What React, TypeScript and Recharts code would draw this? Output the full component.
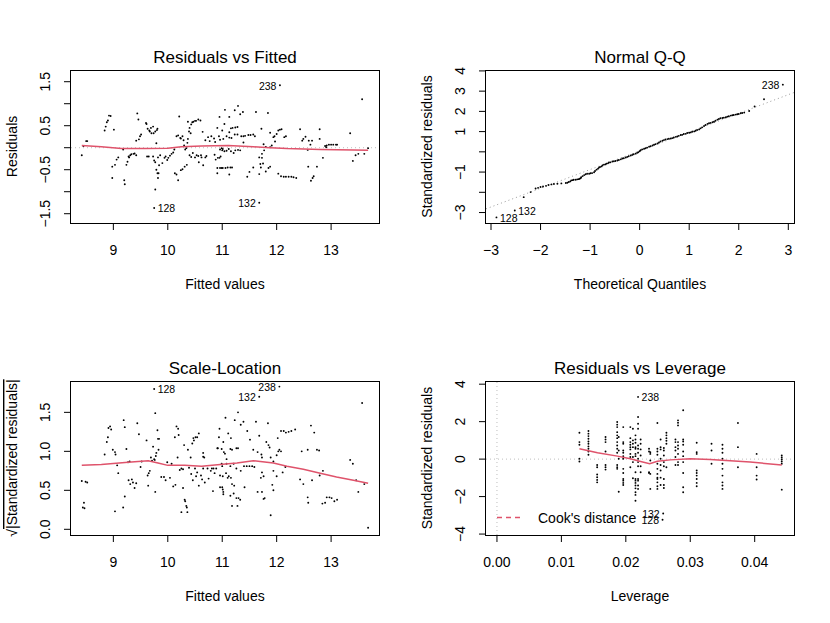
import type { ReactNode } from "react";
import {
  ScatterChart,
  Scatter,
  XAxis,
  YAxis,
  ReferenceLine,
} from "recharts";

const FONT = '"Liberation Sans", Arial, Helvetica, sans-serif';
const LOWESS_RED = "#DF536B";
const GUIDE_GRAY = "#BEBEBE";
const PANEL_W = 415;
const MARGIN = { top: 70, right: 36, bottom: 58, left: 11 };
const Y_AXIS_W = 60;
const X_AXIS_H = 30;

// ---- Residuals vs Fitted: [fitted, residual]
const RESID_FITTED = [
  [8.42, -0.17], [8.45, 0.04], [8.5, 0.15], [8.52, 0.15],
  [8.84, 0.39], [8.86, 0.48], [8.88, 0.58], [8.9, 0.62], [8.92, 0.73], [8.95, 0.72], [9.01, 0.41],
  [8.98, -0.43], [8.98, -0.69], [9.03, -0.39], [9.06, -0.27], [9.09, -0.22],
  [9.18, -0.04], [9.2, -0.74], [9.21, -0.83], [9.24, -0.39], [9.26, -0.32], [9.28, -0.2], [9.29, -0.22],
  [9.31, -0.17], [9.33, -0.15], [9.37, -0.14], [9.39, -0.13], [9.42, -0.17],
  [9.42, 0.16], [9.44, 0.78], [9.46, 0.64], [9.47, 0.19], [9.49, 0.26], [9.51, 0.3],
  [9.6, 0.56], [9.61, 0.54], [9.63, 0.43], [9.66, 0.39], [9.67, 0.37], [9.69, 0.45], [9.7, 0.33],
  [9.73, 0.48], [9.74, 0.33], [9.77, 0.37], [9.79, 0.1], [9.8, 0.4], [9.81, 0.43],
  [9.62, -0.2], [9.65, -0.2], [9.73, -0.2], [9.75, -0.29], [9.77, -0.33], [9.79, -0.5], [9.81, -0.58],
  [9.82, -0.69], [9.83, -0.58], [9.84, -0.4], [9.82, -0.22], [9.77, -0.95],
  [9.86, -0.17], [9.9, -0.35], [9.94, -0.23], [9.96, -0.2], [9.99, -0.28], [10.01, -0.23], [10.04, -0.18],
  [10.07, -0.14], [10.1, -0.11], [10.12, -0.04],
  [10.13, -0.58], [10.16, -0.61], [10.19, -0.74], [10.24, -0.51], [10.27, -0.49], [10.31, -0.43], [10.35, -0.39],
  [10.16, 0.26], [10.19, 0.28], [10.21, 0.71], [10.23, 0.22], [10.24, 0.21], [10.27, 0.26], [10.29, 0.17],
  [10.3, 0.05], [10.32, -0.04], [10.34, -0.01], [10.36, 0.11], [10.37, 0.2], [10.37, 0.59], [10.39, 0.37],
  [10.4, 0.45], [10.42, 0.33], [10.43, 0.53], [10.45, 0.58], [10.47, 0.59], [10.5, 0.61], [10.52, 0.61],
  [10.56, 0.64], [10.6, 0.62], [10.64, 0.36],
  [10.4, -0.17], [10.43, -0.21], [10.46, -0.12], [10.5, -0.22], [10.53, -0.17], [10.56, -0.19], [10.57, -0.33],
  [10.61, -0.17], [10.62, -0.22], [10.65, -0.4], [10.69, -0.22], [10.69, 0.17], [10.71, -0.19], [10.74, 0.24],
  [10.77, 0.15], [10.8, 0.26], [10.85, 0.21], [10.87, 0.13], [10.86, -0.16], [10.88, -0.27], [10.91, -0.46],
  [10.92, -0.23], [10.95, -0.23], [10.97, -0.2], [10.99, -0.01], [11.0, -0.06], [10.95, 0.7], [10.91, 0.45],
  [10.94, 0.26], [11.0, 0.39], [11.02, 0.2], [11.04, 0.54], [11.05, 0.86], [11.06, -0.46], [10.99, -0.46],
  [10.91, -0.58],
  [10.96, 0.18], [11.13, 0.7], [11.23, 0.85], [11.29, 0.95], [11.33, 0.76], [11.38, 0.81],
  [11.13, 0.35], [11.16, 0.44], [11.19, 0.45], [11.24, 0.46], [11.28, 0.47],
  [11.08, 0.26], [11.13, 0.23], [11.17, 0.22], [11.23, 0.3], [11.28, 0.3], [11.35, 0.26], [11.39, 0.26],
  [11.42, 0.27], [11.48, 0.29], [11.52, 0.29], [11.57, 0.3], [11.6, 0.26], [11.39, 0.12],
  [10.96, -0.04], [11.01, -0.03], [11.04, -0.08], [11.08, -0.07], [11.12, -0.03], [11.16, -0.08],
  [11.21, -0.12], [11.24, -0.06], [11.29, -0.05], [11.33, -0.06],
  [10.96, -0.46], [11.01, -0.46], [11.1, -0.45], [11.15, -0.45], [11.18, -0.45], [11.13, -0.61], [11.57, -0.45],
  [11.62, 0.81], [11.84, 0.79], [11.72, 0.43], [11.76, 0.08], [11.8, 0.02], [11.73, -0.14], [11.68, -0.22],
  [11.73, -0.23], [11.77, -0.06], [11.7, -0.37], [11.71, -0.45], [11.75, -0.36],
  [11.88, 0.34], [11.94, 0.24], [11.97, 0.14], [12.0, 0.31], [12.03, 0.39], [12.06, 0.41], [12.09, 0.42],
  [12.14, 0.24], [12.17, 0.26], [11.88, 0.01], [11.91, 0.05], [11.96, 0.26],
  [11.8, -0.54], [11.85, -0.46], [11.88, -0.43], [11.5, -0.55], [11.46, -0.66], [11.68, -0.6],
  [12.03, -0.59], [12.08, -0.65], [12.13, -0.66], [12.17, -0.66], [12.22, -0.66], [12.27, -0.66],
  [12.31, -0.67], [12.36, -0.69],
  [12.43, 0.42], [12.47, 0.16], [12.49, 0.2], [12.53, 0.25], [12.59, 0.16], [12.62, 0.07], [12.65, 0.16],
  [12.79, 0.42], [12.79, 0.2],
  [12.57, -0.05], [12.58, -0.43], [12.66, -0.69], [12.74, -0.43], [12.68, -0.65], [12.63, -0.75],
  [12.85, -0.23], [12.89, 0.04], [12.91, 0.01], [12.92, 0.05], [12.96, 0.07], [13.0, 0.07], [13.04, 0.07],
  [13.09, 0.07], [13.11, 0.07],
  [13.35, 0.33], [13.4, -0.3], [13.45, -0.17], [13.5, -0.14], [13.57, 1.1], [13.61, -0.14], [13.68, -0.01],
];
const RESID_FITTED_IDS: Array<[number, number, string]> = [
  [9.75, -1.37, "128"],
  [11.68, -1.25, "132"],
  [12.06, 1.42, "238"],
];
const RESID_FITTED_SMOOTH = [
  [8.42, 0.05], [8.78, 0.02], [9.15, -0.02], [9.58, -0.02], [10.0, -0.01], [10.25, 0.02], [10.62, 0.04],
  [11.11, 0.05], [11.57, 0.02], [11.88, 0.0], [12.19, -0.02], [12.8, -0.04], [13.41, -0.05], [13.68, -0.06],
];

// ---- Normal Q-Q: [theoretical, standardized residual]
const QQ_POINTS = [
  [-2.34, -2.24], [-2.2, -1.99], [-2.1, -1.81], [-2.05, -1.78], [-2.0, -1.74], [-1.95, -1.71], [-1.89, -1.68],
  [-1.84, -1.64], [-1.78, -1.61], [-1.73, -1.59], [-1.66, -1.58], [-1.58, -1.56], [-1.49, -1.54], [-1.43, -1.49],
  [-1.38, -1.41], [-1.33, -1.38], [-1.26, -1.36], [-1.21, -1.33], [-1.18, -1.25], [-1.12, -1.15], [-1.06, -1.08],
  [-0.99, -1.06], [-0.92, -1.01], [-0.87, -0.88], [-0.82, -0.78], [-0.77, -0.72], [-0.72, -0.63], [-0.67, -0.58],
  [-0.62, -0.53], [-0.55, -0.48], [-0.49, -0.45], [-0.42, -0.4], [-0.35, -0.33], [-0.28, -0.28], [-0.22, -0.22],
  [-0.15, -0.15], [-0.08, -0.09], [-0.03, -0.02], [0.02, 0.08], [0.09, 0.15], [0.15, 0.21], [0.22, 0.28],
  [0.29, 0.35], [0.36, 0.41], [0.42, 0.51], [0.49, 0.58], [0.56, 0.63], [0.63, 0.66], [0.69, 0.71], [0.76, 0.76],
  [0.83, 0.83], [0.89, 0.88], [0.96, 0.93], [1.03, 0.96], [1.1, 1.01], [1.16, 1.08], [1.23, 1.16], [1.3, 1.28],
  [1.37, 1.38], [1.43, 1.43], [1.5, 1.49], [1.57, 1.59], [1.63, 1.66], [1.7, 1.69], [1.77, 1.74], [1.84, 1.79],
  [1.9, 1.82], [1.97, 1.86], [2.04, 1.91], [2.11, 1.94], [2.21, 2.02], [2.32, 2.24], [2.51, 2.6],
  [-1.46, -1.53], [-1.4, -1.46], [-1.35, -1.4], [-1.29, -1.38], [-1.23, -1.35], [-1.19, -1.3], [-1.15, -1.2],
  [-1.09, -1.11], [-1.02, -1.08], [-0.96, -1.05], [-0.9, -0.95], [-0.84, -0.83], [-0.8, -0.75], [-0.75, -0.67],
  [-0.69, -0.62], [-0.64, -0.57], [-0.59, -0.52], [-0.52, -0.47], [-0.45, -0.43], [-0.38, -0.37], [-0.32, -0.32],
  [-0.25, -0.25], [-0.18, -0.18], [-0.12, -0.12], [-0.05, -0.05], [0.0, 0.03], [0.05, 0.12], [0.12, 0.18],
  [0.19, 0.25], [0.26, 0.31], [0.32, 0.38], [0.39, 0.46], [0.46, 0.55], [0.52, 0.61], [0.59, 0.65], [0.66, 0.68],
  [0.73, 0.74], [0.79, 0.79], [0.86, 0.84], [0.93, 0.89], [1.0, 0.94], [1.06, 0.99], [1.13, 1.04], [1.2, 1.11],
  [1.26, 1.21], [1.33, 1.33], [1.4, 1.41], [1.47, 1.46], [1.53, 1.54], [1.6, 1.62], [1.67, 1.67], [1.74, 1.71],
  [1.8, 1.76], [1.87, 1.81], [1.94, 1.84], [2.0, 1.87], [2.07, 1.92],
];
const QQ_IDS: Array<[number, number, string]> = [
  [-2.89, -3.24, "128"],
  [-2.52, -2.9, "132"],
  [2.89, 3.32, "238"],
];
const QQ_LINE = { intercept: 0.05, slope: 0.925 };

// ---- Scale-Location: [fitted, sqrt(|standardized residual|)]
const SCALE_LOCATION = [
  [8.42, 0.62], [8.49, 0.61], [8.52, 0.6], [8.46, 0.34], [8.44, 0.28], [8.47, 0.27],
  [8.84, 0.96], [8.88, 1.12], [8.9, 1.18], [8.91, 1.3], [8.94, 1.32], [8.96, 1.28], [8.99, 1.02], [9.03, 0.99],
  [9.04, 0.96], [9.07, 0.82], [9.09, 0.72], [9.03, 0.23], [9.18, 0.28], [9.21, 0.42], [9.19, 1.4], [9.21, 1.31],
  [9.24, 1.03], [9.27, 0.86], [9.3, 0.87], [9.28, 0.63], [9.31, 0.58], [9.34, 0.64], [9.36, 0.6], [9.39, 0.53],
  [9.42, 0.59], [9.44, 1.36], [9.47, 1.22], [9.5, 0.8], [9.52, 0.87],
  [9.61, 1.14], [9.63, 0.69], [9.65, 0.72], [9.67, 0.75], [9.69, 0.92], [9.71, 0.88], [9.73, 1.06], [9.75, 0.9],
  [9.76, 0.89], [9.77, 1.49], [9.78, 0.94], [9.79, 0.98], [9.81, 1.27], [9.82, 1.16], [9.83, 1.02], [9.84, 1.16],
  [9.64, 0.56], [9.77, 0.48], [9.88, 0.67], [9.93, 0.67], [9.96, 0.63], [9.99, 0.86], [10.04, 0.66], [10.07, 0.84],
  [10.1, 0.55], [10.13, 1.18], [10.14, 0.57], [10.16, 1.32], [10.18, 0.92], [10.19, 1.29], [10.2, 1.21],
  [10.22, 0.76], [10.25, 0.78], [10.28, 0.77], [10.28, 0.53], [10.3, 1.08], [10.31, 0.38], [10.32, 0.36],
  [10.35, 0.28], [10.34, 0.3], [10.36, 0.22], [10.25, 0.22], [10.37, 1.02], [10.39, 0.79], [10.42, 0.92],
  [10.43, 0.71], [10.45, 1.1], [10.46, 0.63], [10.47, 1.17], [10.48, 1.14], [10.51, 1.18], [10.54, 1.18],
  [10.57, 1.23], [10.65, 0.93], [10.67, 0.92], [10.65, 0.98], [10.5, 0.78], [10.52, 0.68], [10.54, 0.73],
  [10.57, 0.56], [10.61, 0.69], [10.63, 0.64], [10.68, 0.6], [10.65, 0.78], [10.73, 0.78], [10.75, 0.65],
  [10.79, 0.75], [10.81, 0.78], [10.84, 0.78], [10.86, 0.72], [10.89, 0.78], [10.91, 1.04], [10.92, 1.04],
  [10.94, 1.18], [10.95, 1.29], [10.99, 1.03], [11.0, 0.81], [11.02, 1.12], [11.02, 0.48], [11.0, 0.54],
  [11.03, 0.99], [11.06, 1.43], [11.08, 0.9], [11.1, 0.66], [10.83, 0.49],
  [11.05, 0.97], [11.11, 1.23], [11.16, 1.17], [11.15, 1.03], [11.18, 1.02], [11.23, 1.4], [11.26, 1.04],
  [11.29, 1.04], [11.29, 1.5], [11.34, 1.34], [11.39, 1.38], [11.46, 1.26], [11.51, 1.15], [11.57, 1.02],
  [11.62, 1.38], [11.68, 1.2], [11.65, 0.99], [11.72, 0.96], [11.73, 0.92], [11.84, 1.36], [11.81, 1.12],
  [11.85, 1.08], [11.87, 1.05], [11.89, 0.92], [11.94, 0.87], [12.0, 0.95], [12.03, 1.0], [12.05, 1.02],
  [12.08, 1.0], [12.02, 1.17], [12.08, 1.26], [12.13, 1.26], [12.17, 1.24], [12.22, 1.25], [12.27, 1.26],
  [12.34, 1.28], [12.46, 1.0], [12.57, 1.02], [12.74, 1.02], [12.78, 1.01], [12.63, 1.33], [12.69, 1.24],
  [10.99, 0.84], [11.08, 0.84], [11.15, 0.81], [11.21, 0.84], [11.26, 0.78], [10.96, 0.69], [11.01, 0.68],
  [11.07, 0.72], [11.12, 0.68], [11.16, 0.66], [10.96, 0.54], [11.01, 0.51], [11.02, 0.45], [11.18, 0.58],
  [11.22, 0.56], [11.15, 0.43], [11.21, 0.46], [11.26, 0.4], [11.3, 0.4], [11.33, 0.38], [11.18, 0.3],
  [11.28, 0.3], [11.41, 0.54], [11.34, 0.75], [11.4, 0.81], [11.45, 0.81], [11.5, 0.81], [11.55, 0.81],
  [11.59, 0.8], [11.73, 0.73], [11.71, 0.66], [11.76, 0.68], [11.94, 0.75], [12.0, 0.68], [12.11, 0.73],
  [12.16, 0.8], [11.65, 0.48], [11.73, 0.48], [11.76, 0.39], [11.78, 0.4], [11.92, 0.57], [11.94, 0.5],
  [11.89, 0.18], [12.43, 0.64], [12.49, 0.58], [12.65, 0.63], [12.79, 0.69], [12.85, 0.75], [12.57, 0.41],
  [12.58, 0.34], [12.84, 0.33], [12.89, 0.34], [12.92, 0.41], [12.97, 0.41], [13.01, 0.4], [13.06, 0.36],
  [13.11, 0.38], [13.35, 0.89], [13.4, 0.84], [13.46, 0.63], [13.5, 0.48], [13.57, 1.62], [13.61, 0.58],
  [13.68, 0.02],
];
const SCALE_LOCATION_IDS: Array<[number, number, string]> = [
  [9.75, 1.8, "128"],
  [11.68, 1.7, "132"],
  [12.05, 1.83, "238"],
];
const SCALE_LOCATION_SMOOTH = [
  [8.42, 0.82], [8.78, 0.83], [9.27, 0.86], [9.64, 0.88], [9.82, 0.85], [10.0, 0.82], [10.31, 0.82],
  [10.62, 0.81], [11.11, 0.84], [11.27, 0.85], [11.57, 0.88], [11.7, 0.87], [11.94, 0.85], [12.19, 0.81],
  [12.49, 0.77], [12.8, 0.72], [13.1, 0.67], [13.41, 0.63], [13.68, 0.59],
];

// ---- Residuals vs Leverage: leverage columns with their standardized residuals
const LEVERAGE_COLUMNS: Array<[number, number[]]> = [
  [0.0128, [1.41, 0.91, 0.77, 0.02, -0.13]],
  [0.0142, [1.5, 1.36, 1.23, 1.09, 0.94, 0.82, 0.68, 0.55, 0.41, 0.23]],
  [0.01555, [-0.31, -0.43, -0.82, -0.97, -1.11, -1.24]],
  [0.01685, [1.18, 1.05, 0.91, 0.41, -0.31, -0.43, -0.56]],
  [0.01866, [1.98, 1.84, 1.71, 1.44, 1.27, 1.12, 0.91, 0.73, 0.55, 0.34, -0.31, -0.43, -0.52]],
  [0.0189, [1.18, 0.46, 0.02, -1.74]],
  [0.0196, [1.71, 0.91, 0.82, 0.46, 0.34, 0.16, 0.02, -0.52, -0.74, -1.06, -1.15, -1.27, -1.38]],
  [0.0207, [1.71, 1.12, 0.91, 0.77, 0.64, 0.52, 0.28, 0.11, -0.43]],
  [0.0211, [1.62, 1.0, 0.82, 0.64, 0.11, -0.16, -1.02]],
  [0.0215, [1.27, 1.05, 0.87, 0.64, 0.55, 0.28, 0.16, -0.7, -1.06, -1.15, -1.27, -1.41, -1.56, -1.77, -1.91, -2.22]],
  [0.0219, [2.25, 1.89, 1.62, 0.73, 0.55, 0.34, 0.02, -0.16, -0.38, -1.06, -1.15, -1.41, -1.59]],
  [0.0223, [1.05, 0.82, 0.52, 0.19, -0.38, -0.7]],
  [0.0236, [0.55, 0.41, -0.7, -0.74]],
  [0.0238, [0.37, 0.28, -0.07, -0.79, -1.59]],
  [0.0249, [1.93, 0.55, 0.41, 0.23, -0.25, -0.52, -0.79, -0.99, -1.06, -1.24, -1.45, -1.59]],
  [0.0254, [1.05, 0.64, 0.52, 0.02, -0.31, -0.61, -0.99, -1.38]],
  [0.0259, [0.59, 0.46, 0.19, -0.16, -0.38, -1.06, -1.38, -1.54]],
  [0.0263, [1.41, 1.27, 1.12, 0.98, 0.82, -0.43]],
  [0.0277, [1.05, 0.91, 0.64, 0.46, 0.11, -0.31]],
  [0.0281, [2.07, 1.94, 1.8, 0.91, 0.73, 0.55, 0.28, -0.16, -0.31]],
  [0.0289, [2.61, 1.05, 0.94, 0.77, 0.41, 0.16, -0.16, -0.74, -1.5, -1.77]],
  [0.031, [0.87, 0.37, 0.28, -0.61, -0.74, -0.88, -1.06, -1.27, -1.45]],
  [0.0333, [0.82, 0.46, -0.25]],
  [0.035, [0.77, 0.55, 0.34, 0.02, -0.25, -0.52, -0.88, -1.24, -1.41, -1.59]],
  [0.0374, [1.93, 0.64, -0.43]],
  [0.0403, [0.28, -0.43, -0.88, -1.09]],
  [0.0442, [0.19, 0.09, -0.02, -0.13, -0.25, -1.63]],
];
const LEVERAGE_IDS: Array<[number, number, string]> = [
  [0.0219, 3.32, "238"],
  [0.0258, -2.9, "132"],
  [0.0257, -3.24, "128"],
];
const LEVERAGE_SMOOTH = [
  [0.0128, 0.55], [0.0156, 0.34], [0.0187, 0.16], [0.0207, 0.02], [0.0223, -0.13], [0.0237, -0.25],
  [0.0249, -0.11], [0.0269, -0.04], [0.03, 0.02], [0.0331, -0.02], [0.0362, -0.09], [0.0393, -0.16],
  [0.0442, -0.31],
];

// ---- axes
const FITTED_TICKS = [9, 10, 11, 12, 13];
const FITTED_LABELS = ["9", "10", "11", "12", "13"];
const RESID_TICKS = [-1.5, -1, -0.5, 0, 0.5, 1, 1.5];
const RESID_LABELS = ["\u22121.5", "", "\u22120.5", "", "0.5", "", "1.5"];
const QQ_X_TICKS = [-3, -2, -1, 0, 1, 2, 3];
const QQ_X_LABELS = ["\u22123", "\u22122", "\u22121", "0", "1", "2", "3"];
const QQ_Y_TICKS = [-3, -2, -1, 0, 1, 2, 3, 4];
const QQ_Y_LABELS = ["\u22123", "", "\u22121", "", "1", "2", "3", "4"];
const SL_TICKS = [0, 0.5, 1, 1.5];
const SL_LABELS = ["0.0", "0.5", "1.0", "1.5"];
const LEV_X_TICKS = [0, 0.01, 0.02, 0.03, 0.04];
const LEV_X_LABELS = ["0.00", "0.01", "0.02", "0.03", "0.04"];
const LEV_Y_TICKS = [-4, -2, 0, 2, 4];
const LEV_Y_LABELS = ["\u22124", "\u22122", "0", "2", "4"];

const FITTED_DOMAIN: [number, number] = [8.222, 13.88];

type XY = { x: number; y: number };
type Tag = XY & { id: string; side: "left" | "right" };

const toXY = (pts: number[][]): XY[] => pts.map(([x, y]) => ({ x, y }));

// same rule as plot.lm: label to the left when the point is right of the labelled points' midrange
function tagPoints(pts: Array<[number, number, string]>): Tag[] {
  const xs = pts.map((p) => p[0]);
  const mid = (Math.min(...xs) + Math.max(...xs)) / 2;
  return pts.map(([x, y, id]) => ({ x, y, id, side: x > mid ? "left" : "right" }));
}

const leveragePoints: XY[] = LEVERAGE_COLUMNS.flatMap(([h, rs]) => rs.map((r) => ({ x: h, y: r })));

function Dot(props: any) {
  return <circle cx={props.cx} cy={props.cy} r={0.95} fill="#000" />;
}

function TaggedDot(props: any) {
  const d = props.payload ?? props;
  const left = d.side === "left";
  return (
    <g>
      <circle cx={props.cx} cy={props.cy} r={0.95} fill="#000" />
      <text
        x={left ? props.cx - 3.5 : props.cx + 3.5}
        y={props.cy + 0.5}
        textAnchor={left ? "end" : "start"}
        dominantBaseline="central"
        fontSize={10.5}
        fontFamily={FONT}
        fill="#000"
      >
        {d.id}
      </text>
    </g>
  );
}

type PanelProps = {
  left: number;
  top: number;
  height: number;
  title: string;
  xTitle: string;
  yTitle: ReactNode;
  xDomain: [number, number];
  yDomain: [number, number];
  xTicks: number[];
  xLabels: string[];
  yTicks: number[];
  yLabels: string[];
  points: XY[];
  smooth: XY[];
  tagged: Tag[];
  guides?: ReactNode[];
  overlay?: ReactNode;
};

function Panel(p: PanelProps) {
  const plotW = PANEL_W - MARGIN.left - Y_AXIS_W - MARGIN.right;
  const plotH = p.height - MARGIN.top - MARGIN.bottom - X_AXIS_H;
  const boxL = MARGIN.left + Y_AXIS_W;
  const midX = boxL + plotW / 2;
  const midY = MARGIN.top + plotH / 2;
  const txt = { fontFamily: FONT, fill: "#000" };

  return (
    <div style={{ position: "absolute", left: p.left, top: p.top, width: PANEL_W, height: p.height }}>
      <ScatterChart width={PANEL_W} height={p.height} margin={MARGIN}>
        <XAxis
          type="number"
          dataKey="x"
          domain={p.xDomain}
          ticks={p.xTicks}
          interval={0}
          height={X_AXIS_H}
          axisLine={false}
          tickLine={{ stroke: "#000" }}
          tickSize={7}
          tickMargin={25}
          tick={(t: any) => (
            <text x={t.x} y={t.y} textAnchor="middle" fontSize={14} {...txt}>
              {p.xLabels[p.xTicks.indexOf(t.payload.value)] ?? ""}
            </text>
          )}
        />
        <YAxis
          type="number"
          dataKey="y"
          domain={p.yDomain}
          ticks={p.yTicks}
          interval={0}
          width={Y_AXIS_W}
          axisLine={false}
          tickLine={{ stroke: "#000" }}
          tickSize={7}
          tickMargin={14}
          tick={(t: any) => (
            <text
              x={t.x}
              y={t.y}
              transform={`rotate(-90 ${t.x} ${t.y})`}
              textAnchor="middle"
              fontSize={14}
              {...txt}
            >
              {p.yLabels[p.yTicks.indexOf(t.payload.value)] ?? ""}
            </text>
          )}
        />
        {p.guides}
        <Scatter data={p.points} shape={Dot} isAnimationActive={false} />
        <Scatter
          data={p.smooth}
          shape={() => <g />}
          line={{ stroke: LOWESS_RED, strokeWidth: 1.5 }}
          isAnimationActive={false}
        />
        <Scatter data={p.tagged} shape={TaggedDot} isAnimationActive={false} />
      </ScatterChart>
      <svg
        width={PANEL_W}
        height={p.height}
        style={{ position: "absolute", left: 0, top: 0, pointerEvents: "none" }}
      >
        {/* plot frame, as box() draws it */}
        <rect
          x={boxL - 0.5}
          y={MARGIN.top + 0.5}
          width={plotW + 1}
          height={plotH}
          fill="none"
          stroke="#000"
          strokeWidth={1}
        />
        <text x={midX} y={MARGIN.top - 7} textAnchor="middle" fontSize={17} {...txt}>
          {p.title}
        </text>
        <text x={midX} y={MARGIN.top + plotH + 66} textAnchor="middle" fontSize={14} {...txt}>
          {p.xTitle}
        </text>
        <text
          x={17}
          y={midY}
          transform={`rotate(-90 17 ${midY})`}
          textAnchor="middle"
          fontSize={14}
          {...txt}
        >
          {p.yTitle}
        </text>
        {p.overlay}
      </svg>
    </div>
  );
}

const dotted = { stroke: GUIDE_GRAY, strokeDasharray: "1 3", strokeWidth: 1 };

export default function App() {
  const qqX: [number, number] = [-3.101, 3.115];
  const levBottom = 312 - MARGIN.bottom - X_AXIS_H;
  const levLeft = MARGIN.left + Y_AXIS_W;

  return (
    <div style={{ position: "absolute", left: 0, top: 0, width: 830, height: 623, background: "#fff" }}>
      <Panel
        left={0}
        top={0}
        height={311}
        title="Residuals vs Fitted"
        xTitle="Fitted values"
        yTitle="Residuals"
        xDomain={FITTED_DOMAIN}
        yDomain={[-1.711, 1.766]}
        xTicks={FITTED_TICKS}
        xLabels={FITTED_LABELS}
        yTicks={RESID_TICKS}
        yLabels={RESID_LABELS}
        points={toXY(RESID_FITTED)}
        smooth={toXY(RESID_FITTED_SMOOTH)}
        tagged={tagPoints(RESID_FITTED_IDS)}
        guides={[<ReferenceLine key="h0" y={0} {...dotted} />]}
      />
      <Panel
        left={415}
        top={0}
        height={311}
        title="Normal Q-Q"
        xTitle="Theoretical Quantiles"
        yTitle="Standardized residuals"
        xDomain={qqX}
        yDomain={[-3.517, 4.045]}
        xTicks={QQ_X_TICKS}
        xLabels={QQ_X_LABELS}
        yTicks={QQ_Y_TICKS}
        yLabels={QQ_Y_LABELS}
        points={toXY(QQ_POINTS)}
        smooth={[]}
        tagged={tagPoints(QQ_IDS)}
        guides={[
          <ReferenceLine
            key="qq"
            segment={[
              { x: qqX[0], y: QQ_LINE.intercept + QQ_LINE.slope * qqX[0] },
              { x: qqX[1], y: QQ_LINE.intercept + QQ_LINE.slope * qqX[1] },
            ]}
            {...dotted}
            stroke="#9A9A9A"
          />,
        ]}
      />
      <Panel
        left={0}
        top={311}
        height={312}
        title="Scale-Location"
        xTitle="Fitted values"
        yTitle={
          <>
            {"\u221A"}
            <tspan textDecoration="overline">|Standardized residuals|</tspan>
          </>
        }
        xDomain={FITTED_DOMAIN}
        yDomain={[-0.073, 1.902]}
        xTicks={FITTED_TICKS}
        xLabels={FITTED_LABELS}
        yTicks={SL_TICKS}
        yLabels={SL_LABELS}
        points={toXY(SCALE_LOCATION)}
        smooth={toXY(SCALE_LOCATION_SMOOTH)}
        tagged={tagPoints(SCALE_LOCATION_IDS)}
      />
      <Panel
        left={415}
        top={311}
        height={312}
        title="Residuals vs Leverage"
        xTitle="Leverage"
        yTitle="Standardized residuals"
        xDomain={[-0.0017, 0.0461]}
        yDomain={[-4.05, 4.17]}
        xTicks={LEV_X_TICKS}
        xLabels={LEV_X_LABELS}
        yTicks={LEV_Y_TICKS}
        yLabels={LEV_Y_LABELS}
        points={leveragePoints}
        smooth={toXY(LEVERAGE_SMOOTH)}
        tagged={tagPoints(LEVERAGE_IDS)}
        guides={[
          <ReferenceLine key="v0" x={0} {...dotted} />,
          <ReferenceLine key="h0" y={0} {...dotted} />,
        ]}
        overlay={
          <g>
            <line
              x1={levLeft + 11}
              x2={levLeft + 34}
              y1={levBottom - 17.5}
              y2={levBottom - 17.5}
              stroke={LOWESS_RED}
              strokeWidth={1.5}
              strokeDasharray="5 4"
            />
            <text x={levLeft + 52} y={levBottom - 12.5} fontSize={14} fontFamily={FONT} fill="#000">
              Cook's distance
            </text>
          </g>
        }
      />
    </div>
  );
}
